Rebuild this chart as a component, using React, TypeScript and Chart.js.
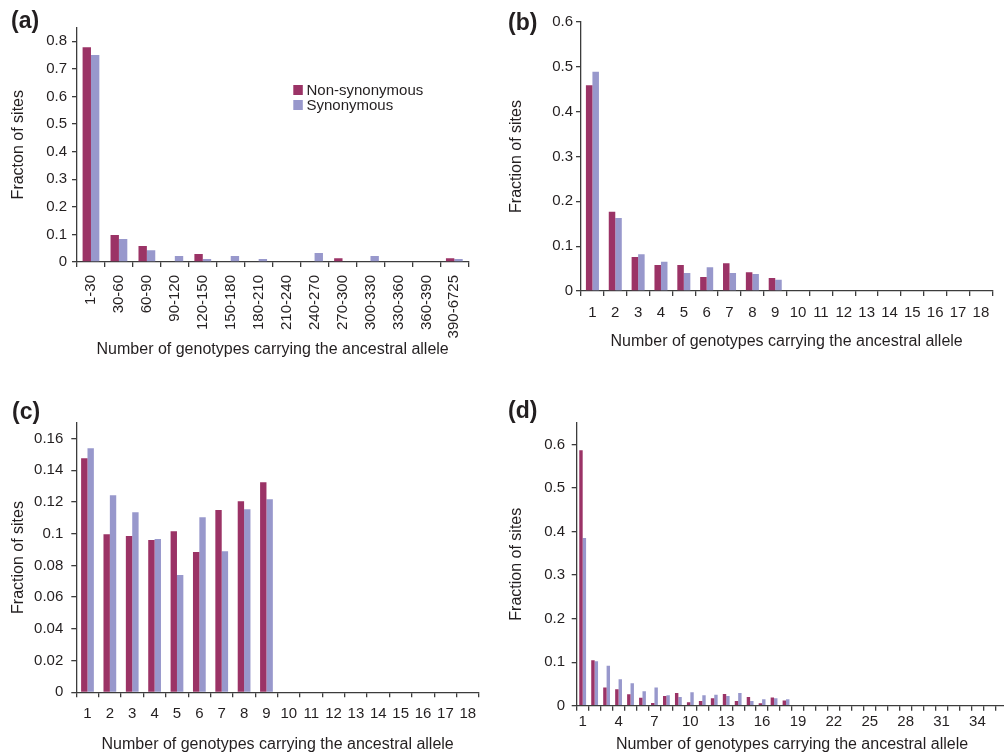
import React, { useEffect, useRef } from 'react';
import { Chart, registerables } from 'chart.js';

Chart.register(...registerables);

const FONT = "'Liberation Sans', Arial, Helvetica, sans-serif";
const TEXT = '#231f20';
const AXIS = '#3c3c3c';
const MAROON = '#9b3366';
const LAVENDER = '#9898cc';

const seriesNames = ['Non-synonymous', 'Synonymous'];
const xTitle = 'Number of genotypes carrying the ancestral allele';

// Panel (a)
const catsA = ['1-30', '30-60', '60-90', '90-120', '120-150', '150-180', '180-210', '210-240', '240-270', '270-300', '300-330', '330-360', '360-390', '390-6725'];
const nonSynA = [0.778, 0.098, 0.058, 0, 0.029, 0, 0, 0, 0, 0.014, 0, 0, 0, 0.014];
const synA = [0.75, 0.083, 0.043, 0.022, 0.011, 0.022, 0.011, 0, 0.033, 0, 0.022, 0, 0, 0.011];

// Panel (b)
const catsB = ['1', '2', '3', '4', '5', '6', '7', '8', '9', '10', '11', '12', '13', '14', '15', '16', '17', '18'];
const nonSynB = [0.459, 0.177, 0.076, 0.058, 0.058, 0.031, 0.062, 0.042, 0.029, 0, 0, 0, 0, 0, 0, 0, 0, 0];
const synB = [0.489, 0.163, 0.082, 0.065, 0.040, 0.053, 0.040, 0.038, 0.025, 0, 0, 0, 0, 0, 0, 0, 0, 0];

// Panel (c)
const catsC = ['1', '2', '3', '4', '5', '6', '7', '8', '9', '10', '11', '12', '13', '14', '15', '16', '17', '18'];
const nonSynC = [0.1476, 0.0997, 0.0985, 0.096, 0.1016, 0.0884, 0.1149, 0.1205, 0.1325, 0, 0, 0, 0, 0, 0, 0, 0, 0];
const synC = [0.1539, 0.1243, 0.1136, 0.0966, 0.0739, 0.1104, 0.089, 0.1155, 0.1218, 0, 0, 0, 0, 0, 0, 0, 0, 0];

// Panel (d)
const catsD = ['1', '2', '3', '4', '5', '6', '7', '8', '9', '10', '11', '12', '13', '14', '15', '16', '17', '18',
  '19', '20', '21', '22', '23', '24', '25', '26', '27', '28', '29', '30', '31', '32', '33', '34', '35', '36'];
const nonSynD = [0.587, 0.1045, 0.042, 0.038, 0.0265, 0.018, 0.006, 0.022, 0.029, 0.008, 0.011, 0.017, 0.027, 0.011, 0.02, 0.0054, 0.019, 0.012,
  0, 0, 0, 0, 0, 0, 0, 0, 0, 0, 0, 0, 0, 0, 0, 0, 0, 0];
const synD = [0.385, 0.102, 0.092, 0.061, 0.0515, 0.033, 0.042, 0.024, 0.02, 0.031, 0.024, 0.025, 0.022, 0.029, 0.011, 0.015, 0.017, 0.015,
  0, 0, 0, 0, 0, 0, 0, 0, 0, 0, 0, 0, 0, 0, 0, 0, 0, 0];

type Panel = {
  key: string;
  label: string;
  left: number; top: number; width: number; height: number;
  cats: string[]; non: number[]; syn: number[];
  yMax: number; yStep: number; yTitle: string;
  rotate: number; every: number; catPct: number;
  yW: number; xH: number; padTop: number; padRight: number;
  yTitlePad: number; xTitlePad: number; yTickPad: number; xTickPad: number;
  labelX: number; labelY: number; legend: boolean;
};

const panels: Panel[] = [
  {
    key: 'a', label: '(a)', left: 0, top: 0, width: 500, height: 380,
    cats: catsA, non: nonSynA, syn: synA, yMax: 0.85, yStep: 0.1, yTitle: 'Fracton of sites',
    rotate: 90, every: 1, catPct: 0.6,
    yW: 77, xH: 118, padTop: 27.4, padRight: 31.7,
    yTitlePad: 9.4, xTitlePad: 20.4, yTickPad: 5, xTickPad: 8,
    labelX: 11, labelY: 28, legend: true,
  },
  {
    key: 'b', label: '(b)', left: 500, top: 0, width: 504, height: 380,
    cats: catsB, non: nonSynB, syn: synB, yMax: 0.6, yStep: 0.1, yTitle: 'Fraction of sites',
    rotate: 0, every: 1, catPct: 0.57,
    yW: 81, xH: 89, padTop: 22, padRight: 11.7,
    yTitlePad: 7.1, xTitlePad: 28.7, yTickPad: 3, xTickPad: 8,
    labelX: 8, labelY: 30, legend: false,
  },
  {
    key: 'c', label: '(c)', left: 0, top: 380, width: 500, height: 376,
    cats: catsC, non: nonSynC, syn: synC, yMax: 0.17, yStep: 0.02, yTitle: 'Fraction of sites',
    rotate: 0, every: 1, catPct: 0.57,
    yW: 76.3, xH: 63.7, padTop: 42.7, padRight: 21,
    yTitlePad: 9.4, xTitlePad: 2.1, yTickPad: 8, xTickPad: 8,
    labelX: 12, labelY: 38.5, legend: false,
  },
  {
    key: 'd', label: '(d)', left: 500, top: 380, width: 520, height: 376,
    cats: catsD, non: nonSynD, syn: synD, yMax: 0.65, yStep: 0.1, yTitle: 'Fraction of sites',
    rotate: 0, every: 3, catPct: 0.57,
    yW: 76.7, xH: 50.3, padTop: 42.7, padRight: 12.7,
    yTitlePad: 7.1, xTitlePad: 2.1, yTickPad: 6.7, xTickPad: 2,
    labelX: 8, labelY: 38, legend: false,
  },
];

const decoPlugin = {
  id: 'panelDeco',
  afterDraw(chart: any, _args: any, opts: any) {
    const ctx = chart.ctx;
    ctx.save();
    ctx.fillStyle = TEXT;
    ctx.textBaseline = 'alphabetic';
    ctx.textAlign = 'left';
    ctx.font = `bold 23px ${FONT}`;
    ctx.fillText(opts.label, opts.labelX, opts.labelY);
    if (opts.legend) {
      const colors = [MAROON, LAVENDER];
      ctx.font = `15px ${FONT}`;
      ctx.textBaseline = 'middle';
      seriesNames.forEach((name, i) => {
        const y = 85 + i * 15;
        ctx.fillStyle = colors[i];
        ctx.fillRect(293.3, y, 9.5, 10);
        ctx.fillStyle = TEXT;
        ctx.fillText(name, 306.5, y + 5.5);
      });
    }
    ctx.restore();
  },
};

function PanelChart({ p }: { p: Panel }) {
  const ref = useRef<HTMLCanvasElement | null>(null);
  useEffect(() => {
    if (!ref.current) return;
    const chart = new Chart(ref.current, {
      type: 'bar',
      data: {
        labels: p.cats,
        datasets: [
          { label: seriesNames[0], data: p.non, backgroundColor: MAROON, borderWidth: 0, categoryPercentage: p.catPct, barPercentage: 1 },
          { label: seriesNames[1], data: p.syn, backgroundColor: LAVENDER, borderWidth: 0, categoryPercentage: p.catPct, barPercentage: 1 },
        ],
      },
      options: {
        responsive: false,
        animation: false,
        devicePixelRatio: 1,
        layout: { padding: { top: p.padTop, right: p.padRight, left: 0, bottom: 0 } },
        plugins: {
          legend: { display: false },
          tooltip: { enabled: false },
          panelDeco: { label: p.label, labelX: p.labelX, labelY: p.labelY, legend: p.legend },
        } as any,
        scales: {
          x: {
            grid: { display: true, drawOnChartArea: false, drawTicks: true, tickLength: 5, color: AXIS, lineWidth: 1.3, offset: true },
            border: { display: true, color: AXIS, width: 1.3 },
            ticks: {
              autoSkip: false,
              maxRotation: p.rotate,
              minRotation: p.rotate,
              padding: p.xTickPad,
              color: TEXT,
              font: { family: FONT, size: 15 },
              callback: (_v: any, i: number) => (i % p.every === 0 ? p.cats[i] : ''),
            },
            title: { display: true, text: xTitle, color: TEXT, font: { family: FONT, size: 16 }, padding: { top: 0, bottom: p.xTitlePad } },
            afterFit: (s: any) => { s.height = p.xH; },
          },
          y: {
            min: 0,
            max: p.yMax,
            grid: { display: true, drawOnChartArea: false, drawTicks: true, tickLength: 5, color: AXIS, lineWidth: 1.3 },
            border: { display: true, color: AXIS, width: 1.3 },
            ticks: {
              stepSize: p.yStep,
              includeBounds: false,
              padding: p.yTickPad,
              color: TEXT,
              font: { family: FONT, size: 15 },
              callback: (v: any) => String(Math.round(Number(v) * 1000) / 1000),
            },
            title: { display: true, text: p.yTitle, color: TEXT, font: { family: FONT, size: 16 }, padding: { top: p.yTitlePad, bottom: 0 } },
            afterFit: (s: any) => { s.width = p.yW; },
          },
        },
      } as any,
      plugins: [decoPlugin],
    });
    return () => chart.destroy();
  }, [p]);
  return (
    <canvas
      ref={ref}
      width={p.width}
      height={p.height}
      style={{ position: 'absolute', left: p.left, top: p.top, width: p.width, height: p.height }}
    />
  );
}

export default function App() {
  return (
    <div style={{ position: 'fixed', left: 0, top: 0, width: 1004, height: 756, overflow: 'hidden', background: '#ffffff' }}>
      {panels.map((p) => (
        <PanelChart key={p.key} p={p} />
      ))}
    </div>
  );
}
